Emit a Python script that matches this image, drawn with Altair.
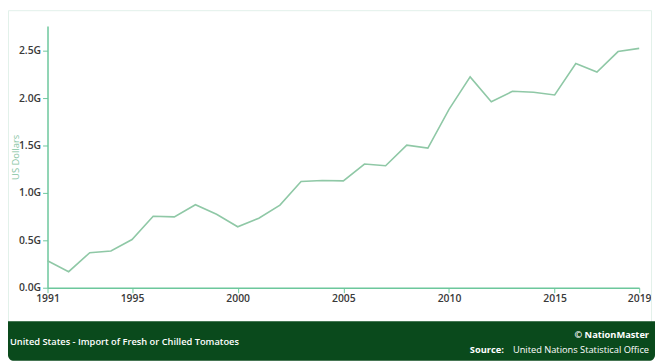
import altair as alt
import pandas as pd

years = list(range(1991, 2020))
import_usd_bn = [0.284, 0.169, 0.370, 0.387, 0.508, 0.754, 0.747, 0.875, 0.775, 0.643,
                 0.733, 0.871, 1.120, 1.130, 1.127, 1.304, 1.286, 1.504, 1.473, 1.881,
                 2.223, 1.961, 2.071, 2.061, 2.033, 2.365, 2.275, 2.490, 2.524]
x_ticks = [1991, 1995, 2000, 2005, 2010, 2015, 2019]
y_ticks = [0.0, 0.5, 1.0, 1.5, 2.0, 2.5]

title_text = "United States - Import of Fresh or Chilled Tomatoes"
brand_text = "\u00a9 NationMaster"
source_label = "Source:"
source_text = "United Nations Statistical Office"

df = pd.DataFrame({"year": years, "value": import_usd_bn})

W, H = 599, 265
GREEN = "#6cc79c"
LINE = "#8fc8a6"
FOOT = "#0a4a1c"
FONT = "Open Sans"

line = alt.Chart(df).mark_line(color=LINE, strokeWidth=1.6).encode(
    x=alt.X("year:Q", scale=alt.Scale(domain=[1991, 2019], nice=False, zero=False),
            axis=alt.Axis(values=x_ticks, format="d", title=None, grid=False,
                          domainColor=GREEN, tickColor=GREEN, domainWidth=1.5,
                          tickSize=5, labelColor="#3a3a3a", labelFontSize=10.5,
                          labelFont=FONT, labelFontWeight=600, labelFlush=False,
                          labelPadding=1)),
    y=alt.Y("value:Q", scale=alt.Scale(domain=[0, 2.76], nice=False),
            axis=alt.Axis(values=y_ticks, labelExpr="format(datum.value, '.1f') + 'G'",
                          title="US Dollars", titleColor="#86c4a2", titleFont=FONT,
                          titleFontWeight="normal", titleFontSize=9.5,
                          titleX=-27, titleBaseline="bottom",
                          grid=False, domainColor=GREEN, tickColor=GREEN, domainWidth=1.5,
                          tickSize=5, labelColor="#3a3a3a", labelFontSize=10.5,
                          labelFont=FONT, labelFontWeight=600, labelPadding=2)),
)

one = pd.DataFrame({"k": [0]})

frame = alt.Chart(one).mark_rect(fill=None, stroke="#e2f1ea", strokeWidth=1).encode(
    x=alt.value(-39.5), x2=alt.value(611.5), y=alt.value(-15.5), y2=alt.value(300)
)

footer = alt.Chart(one).mark_rect(color=FOOT, cornerRadiusBottomLeft=6,
                                  cornerRadiusBottomRight=6).encode(
    x=alt.value(-40), x2=alt.value(615), y=alt.value(299), y2=alt.value(339)
)

def txt(s, x, y, align, weight, size=9.4):
    return alt.Chart(pd.DataFrame({"t": [s]})).mark_text(
        align=align, baseline="middle", color="white", font=FONT,
        fontWeight=weight, fontSize=size).encode(
        text="t:N", x=alt.value(x), y=alt.value(y))

t1 = txt(title_text, -38, 320, "left", 600)
t2 = txt(brand_text, 609, 313, "right", 700)
t3 = txt(source_text, 609, 328, "right", "normal")
t4 = txt(source_label, 462, 328, "right", 700)

chart = alt.layer(frame, footer, line, t1, t2, t3, t4).properties(
    width=W, height=H,
    padding={"left": 40, "top": 16, "right": 16, "bottom": 74},
    autosize=alt.AutoSizeParams(type="none"),
    background="white",
).configure_view(stroke=None)

chart.save("out.html", embed_options={"renderer": "svg", "actions": False})
